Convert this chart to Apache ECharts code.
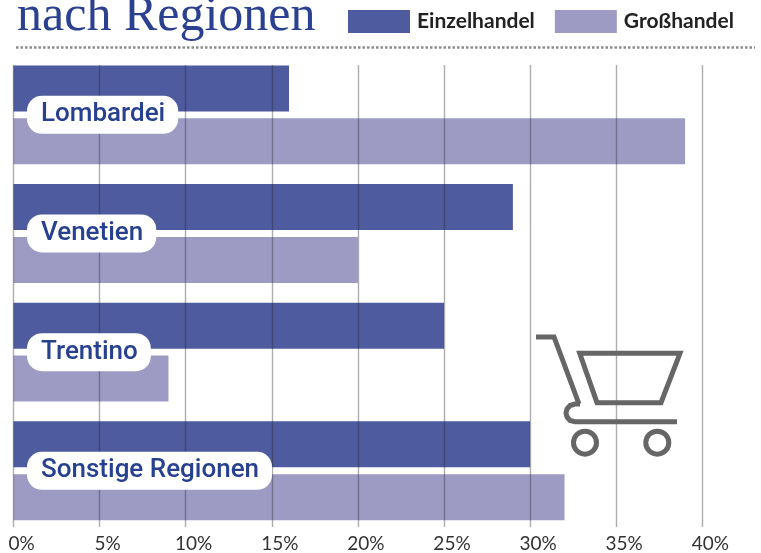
<!DOCTYPE html>
<html><head><meta charset="utf-8">
<style>html,body{margin:0;padding:0;background:#fff}#c{width:761px;height:553px}</style>
<script src="https://cdn.jsdelivr.net/npm/echarts@6/dist/echarts.min.js"></script>
</head><body><div id="c"></div>
<script>
const titleText = 'nach Regionen';
const regions = ['Lombardei', 'Venetien', 'Trentino', 'Sonstige Regionen'];
const einzelhandel = [16, 29, 25, 30];
const grosshandel = [39, 20, 9, 32];
const seriesNames = ['Einzelhandel', 'Großhandel'];
const tickFormat = '{value}%';

const chart = echarts.init(document.getElementById('c'), null, {renderer: 'canvas'});
const cart = '#666666';
const stroke = {stroke: cart, lineWidth: 5, fill: 'none'};
chart.setOption({
  animation: false,
  backgroundColor: '#ffffff',
  title: {
    text: titleText, left: 17, top: -8, padding: 0,
    textStyle: {fontFamily: 'Liberation Serif', fontSize: 50, fontWeight: 'normal', color: '#2b4090', lineHeight: 50}
  },
  legend: {
    left: 348, top: 10, padding: 0, itemWidth: 62, itemHeight: 23, itemGap: 20,
    icon: 'rect', data: seriesNames,
    textStyle: {fontFamily: 'Lato', fontWeight: 'bold', fontSize: 21, color: '#222', padding: [0, 0, 0, 2]}
  },
  grid: [
    {left: 13.5, right: 58.7, top: 55.5, height: 474.6},
    {left: 13.5, right: 58.7, top: 65, height: 462}
  ],
  xAxis: [
    {gridIndex: 0, type: 'value', min: 0, max: 40, interval: 5, show: false},
    {gridIndex: 1, type: 'value', min: 0, max: 40, interval: 5, z: 3,
      axisLine: {show: false}, axisTick: {show: false},
      splitLine: {show: true, lineStyle: {color: 'rgba(40,40,50,0.38)', width: 1.4}},
      axisLabel: {formatter: tickFormat, margin: 7, fontFamily: 'Lato', fontSize: 19, color: '#333', padding: [0, 0, 0, 16]}
    }
  ],
  yAxis: [
    {gridIndex: 0, type: 'category', inverse: true, data: regions, z: 5,
      axisLine: {show: false}, axisTick: {show: false}, splitLine: {show: false},
      axisLabel: {inside: true, margin: 13.5, fontFamily: 'Roboto', fontWeight: 500, fontSize: 26,
        color: '#27408f', backgroundColor: '#fff', borderRadius: 15, padding: [6, 13, 6, 14]}
    },
    {gridIndex: 1, type: 'value', min: 0, max: 1, show: false}
  ],
  series: [
    {name: seriesNames[0], type: 'bar', xAxisIndex: 0, yAxisIndex: 0, data: einzelhandel, barWidth: 46, barGap: '15%', itemStyle: {color: '#4e5b9e'}},
    {name: seriesNames[1], type: 'bar', xAxisIndex: 0, yAxisIndex: 0, data: grosshandel, barWidth: 46, barGap: '15%', itemStyle: {color: '#9d9bc4'}}
  ],
  graphic: [
    {type: 'line', z: 1, shape: {x1: 16, y1: 47.5, x2: 755, y2: 47.5}, style: {stroke: '#8a8a8a', lineWidth: 2.5, lineDash: [2.5, 2]}},
    {type: 'polyline', z: 10, shape: {points: [[536, 337], [554, 337], [579, 404]]}, style: stroke},
    {type: 'polyline', z: 10, shape: {points: [[580, 404], [575, 404], [570, 405.5], [567, 409], [566, 413], [567, 417], [570, 420.5], [575, 421.7], [677, 421.7]]}, style: stroke},
    {type: 'polygon', z: 10, shape: {points: [[579.7, 353.3], [680, 353.3], [661, 402.7], [597, 402.7]]}, style: stroke},
    {type: 'circle', z: 10, shape: {cx: 585, cy: 442.7, r: 11.5}, style: stroke},
    {type: 'circle', z: 10, shape: {cx: 657.3, cy: 442.7, r: 11.5}, style: stroke}
  ]
});
</script></body></html>
